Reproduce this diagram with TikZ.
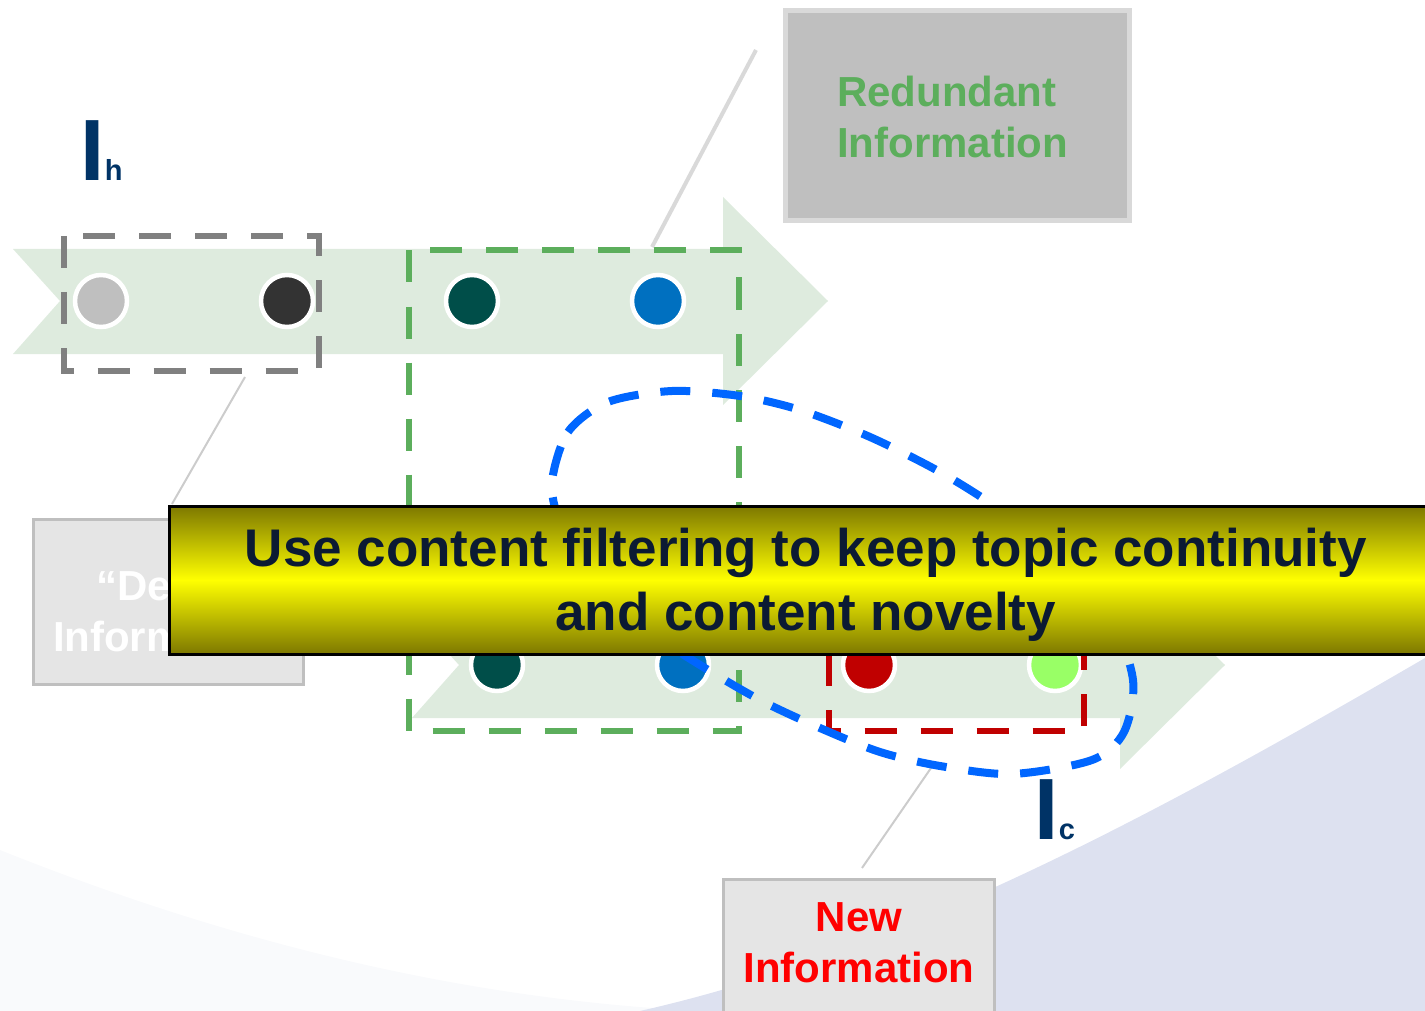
\documentclass[tikz,border=0pt]{standalone}
\usepackage{fontspec}
\setmainfont{Liberation Sans}
\usepackage{tikz}
\usetikzlibrary{positioning}
\usepackage{xcolor}
\definecolor{RibbonGreen}{HTML}{DEEBDE}
\definecolor{FrameGray}{HTML}{808080}
\definecolor{FrameGreen}{HTML}{5CAE5C}
\definecolor{FrameRed}{HTML}{C00000}
\definecolor{LoopBlue}{HTML}{0066FF}
\definecolor{DotSilver}{HTML}{BFBFBF}
\definecolor{DotCoal}{HTML}{333333}
\definecolor{DotTeal}{HTML}{004E49}
\definecolor{DotBlue}{HTML}{0070C0}
\definecolor{DotRed}{HTML}{C00000}
\definecolor{DotLime}{HTML}{99FF66}
\definecolor{IndexBlue}{HTML}{003366}
\definecolor{BannerInk}{HTML}{0B1A33}
\definecolor{BannerOlive}{HTML}{7D7800}
\definecolor{BoxFill}{HTML}{E5E5E5}
\definecolor{BoxEdge}{HTML}{BFBFBF}
\definecolor{BoxDark}{HTML}{BFBFBF}
\definecolor{BoxDarkEdge}{HTML}{D9D9D9}
\definecolor{CalloutGray}{HTML}{CCCCCC}
\definecolor{Lavender}{HTML}{DDE1F0}

\begin{document}
\begin{tikzpicture}[
    x=1pt, y=-1pt,
    every node/.style={
        inner sep=0pt,
        font=\bfseries
    },
    dot/.style={
        circle,
        draw=white,
        line width=4.5pt,
        minimum size=52pt
    },
    framed/.style={
        line width=6pt,
        dash pattern=on 32pt off 24pt
    },
    infobox/.style={
        rectangle,
        draw=BoxEdge,
        fill=BoxFill,
        line width=3pt
    },
    boxtext/.style={
        align=center,
        font=\bfseries\fontsize{42}{51}\selectfont
    },
    callout/.style={
        draw=CalloutGray,
        line width=2pt
    },
    subtag/.style={
        anchor=base west,
        text=IndexBlue
    }
]

\useasboundingbox (0,0) rectangle (1425,1011);
\clip (0,0) rectangle (1425,1011);

% background swooshes
\fill[Lavender!18] (0,850) .. controls (250,950) and (480,1000) .. (700,1011) -- (0,1011) -- cycle;
\fill[Lavender] (1425,658) .. controls (1150,818) and (900,952) .. (640,1011) -- (1425,1011) -- cycle;

% the two streams
\fill[RibbonGreen] (13,249) -- (723,249) -- (723,197) -- (828,301) -- (723,405)
    -- (723,354) -- (13,354) -- (60,301) -- cycle;
\fill[RibbonGreen] (412,613) -- (1120,613) -- (1120,561) -- (1225,665) -- (1120,769)
    -- (1120,718) -- (412,718) -- (459,665) -- cycle;

% history items
\node[dot, fill=DotSilver] (h1) at (101,301) {};
\node[dot, fill=DotCoal]   (h2) at (287,301) {};
\node[dot, fill=DotTeal]   (h3) at (472,301) {};
\node[dot, fill=DotBlue]   (h4) at (658,301) {};

% candidate items
\node[dot, fill=DotTeal] (c1) at (497,665) {};
\node[dot, fill=DotBlue] (c2) at (683,665) {};
\node[dot, fill=DotRed]  (c3) at (869,665) {};
\node[dot, fill=DotLime] (c4) at (1055,665) {};

% groupings
\draw[framed, draw=FrameGray]  (64,236) rectangle (319,370.5);
\draw[framed, draw=FrameGreen] (409,250.5) rectangle (739,731);
\draw[framed, draw=FrameRed]   (829,598) rectangle (1084,730.5);

% callout boxes
\node[infobox, draw=BoxDarkEdge, fill=BoxDark, line width=5pt,
      minimum width=344pt, minimum height=210pt] (redundant) at (957.5,115.5) {};
\node[boxtext, align=left, text=FrameGreen, below=68pt of redundant.north,
      xshift=-5pt] (redundanttext) {Redundant\\Information};

\node[infobox, minimum width=270pt, minimum height=165pt] (dead) at (168.5,602) {};
\node[boxtext, text=white, below=52pt of dead.north] (deadtext) {“Dead”\\Information};

\node[infobox, minimum width=271pt, minimum height=150.5pt] (newinfo) at (859,954.75) {};
\node[boxtext, text=red, below=24pt of newinfo.north] (newtext) {New\\Information};

\coordinate (redundanttip) at (756,50);
\coordinate (redundantfoot) at (652,247);
\coordinate (deadtip) at (245,377);
\coordinate (deadfoot) at (172,504);
\coordinate (newtip) at (931,768);
\coordinate (newfoot) at (862,868);
\draw[callout, draw=BoxDarkEdge, line width=4pt] (redundanttip) -- (redundantfoot);
\draw[callout] (deadtip) -- (deadfoot);
\draw[callout] (newtip) -- (newfoot);

% filtered selection
\draw[LoopBlue, line width=8pt, dash pattern=on 30pt off 22pt]
    plot[smooth cycle] coordinates {
        (552,482) (568,432) (608,402) (672,391) (740,396) (800,410) (870,437)
        (940,472) (1000,510) (1060,560) (1110,615) (1133,680) (1124,732)
        (1092,760) (1012,774) (940,766) (880,752) (820,728) (760,700)
        (700,665) (640,625) (590,572) (560,522)};

% sequence labels
\node[subtag] (Ih) at (80.4,181) {\fontsize{87}{87}\selectfont I\fontsize{29}{29}\selectfont h};
\node[subtag] (Ic) at (1034.4,839) {\fontsize{87}{87}\selectfont I\fontsize{29}{29}\selectfont c};

% banner
\node[rectangle, draw=black, line width=3pt, minimum width=1272.5pt, minimum height=148pt,
      top color=BannerOlive, bottom color=BannerOlive, middle color=yellow] (banner) at (805.75,580) {};
\node[text=BannerInk, align=center, font=\bfseries\fontsize{53}{64}\selectfont,
      below=23pt of banner.north] (bannertext)
    {Use content filtering to keep topic continuity\\and content novelty};

\end{tikzpicture}
\end{document}
